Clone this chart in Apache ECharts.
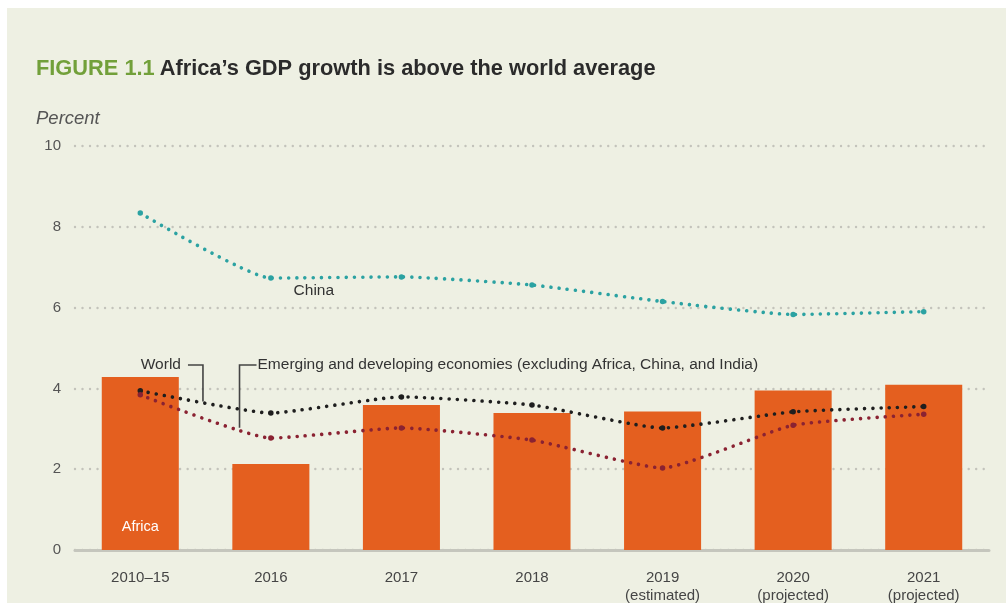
<!DOCTYPE html>
<html><head><meta charset="utf-8">
<script src="https://cdn.jsdelivr.net/npm/echarts@6/dist/echarts.min.js"></script>
<style>
html,body{margin:0;padding:0;background:#fff;width:1006px;height:603px;overflow:hidden}
#c{position:absolute;left:7px;top:8px;width:999px;height:595px;background:#eef0e3}
</style></head><body><div id="c"></div>
<script>
const categories = ['2010–15','2016','2017','2018','2019\n(estimated)','2020\n(projected)','2021\n(projected)'];
const africa = [4.28, 2.13, 3.59, 3.39, 3.43, 3.95, 4.09];
const china = [8.34, 6.73, 6.76, 6.56, 6.15, 5.83, 5.90];
const world = [3.94, 3.39, 3.79, 3.59, 3.02, 3.42, 3.55];
const emerging = [3.84, 2.77, 3.02, 2.72, 2.03, 3.09, 3.36];
const yTicks = [0, 2, 4, 6, 8, 10];

const FONT = '"Liberation Sans", Arial, sans-serif';
const chart = echarts.init(document.getElementById('c'), null, {renderer:'canvas'});
const dotLine = (color) => ({color: color, width: 3.6, type: [0.01, 8.2], cap: 'round'});
const lineSeries = (name, data, color) => ({
  name, type: 'line', data, smooth: 0.15, z: 5,
  symbol: 'circle', symbolSize: 5.5, showSymbol: true,
  itemStyle: {color: color}, lineStyle: dotLine(color)
});
chart.setOption({
  animation: false,
  textStyle: {fontFamily: FONT},
  title: [{
    left: 24, top: 45,
    text: '{g|FIGURE 1.1} {d|Africa’s GDP growth is above the world average}',
    textStyle: {rich: {
      g: {fontFamily: FONT, fontSize: 21.8, fontWeight: 'bold', color: '#72a03a'},
      d: {fontFamily: FONT, fontSize: 21.8, fontWeight: 'bold', color: '#2b2b2b'}
    }}
  }, {
    left: 24, top: 96, text: 'Percent',
    textStyle: {fontFamily: FONT, fontSize: 18.5, fontStyle: 'italic', fontWeight: 'normal', color: '#555'}
  }],
  grid: {left: 68, right: 17, top: 138, bottom: 53, outerBoundsMode: 'none', containLabel: false},
  xAxis: {
    type: 'category', data: categories,
    axisLine: {show: true, lineStyle: {color: '#c5c6bd', width: 3}},
    axisTick: {show: false},
    axisLabel: {fontFamily: FONT, fontSize: 15, color: '#454545', margin: 19, lineHeight: 18, interval: 0}
  },
  yAxis: {
    type: 'value', min: yTicks[0], max: yTicks[yTicks.length-1], interval: 2,
    axisLine: {show: false}, axisTick: {show: false},
    axisLabel: {fontFamily: FONT, fontSize: 15, color: '#555', margin: 14,
      customValues: yTicks},
    splitLine: {show: true, lineStyle: {color: '#c3c3bb', width: 2.4, type: [0.01, 7.5], cap: 'round'}}
  },
  series: [
    {name: 'Africa', type: 'bar', barWidth: '59%', z: 2,
     itemStyle: {color: '#e45f1f'},
     data: africa.map((v, i) => i === 0 ? {value: v, label: {show: true, position: 'insideBottom', distance: 16,
        formatter: 'Africa', color: '#fff', fontFamily: FONT, fontSize: 14.5}} : v)},
    lineSeries('China', china, '#2ba2a2'),
    lineSeries('World', world, '#1e1e1e'),
    lineSeries('Emerging and developing economies (excluding Africa, China, and India)', emerging, '#8a2232')
  ]
});

function px(i, v) { return chart.convertToPixel({gridIndex: 0}, [i, v]); }
function lerpPt(arr, f) {
  const i = Math.floor(f), t = f - i;
  const a = px(i, arr[i]), b = px(i + 1, arr[i + 1]);
  return [a[0] + (b[0] - a[0]) * t, a[1] + (b[1] - a[1]) * t];
}
const yLab = px(0, 4.58)[1];
const wPt = lerpPt(world, 0.48);
const ePt = lerpPt(emerging, 0.76);
const chinaPt = px(1, 6.42);
const txt = {fontFamily: FONT, fontSize: 15.5, fill: '#333'};
chart.setOption({
  graphic: [
    {type: 'text', x: wPt[0] - 22, y: yLab, style: Object.assign({text: 'World', align: 'right', verticalAlign: 'middle'}, txt)},
    {type: 'polyline', shape: {points: [[wPt[0] - 15, yLab], [wPt[0], yLab], [wPt[0], wPt[1]]]}, style: {stroke: '#444', lineWidth: 1.6, fill: null}},
    {type: 'text', x: ePt[0] + 18, y: yLab, style: Object.assign({text: 'Emerging and developing economies (excluding Africa, China, and India)', align: 'left', verticalAlign: 'middle'}, txt)},
    {type: 'polyline', shape: {points: [[ePt[0] + 17, yLab], [ePt[0], yLab], [ePt[0], ePt[1]]]}, style: {stroke: '#444', lineWidth: 1.6, fill: null}},
    {type: 'text', x: chinaPt[0] + 43, y: chinaPt[1], style: Object.assign({text: 'China', align: 'center', verticalAlign: 'middle'}, txt)}
  ]
});
</script></body></html>
